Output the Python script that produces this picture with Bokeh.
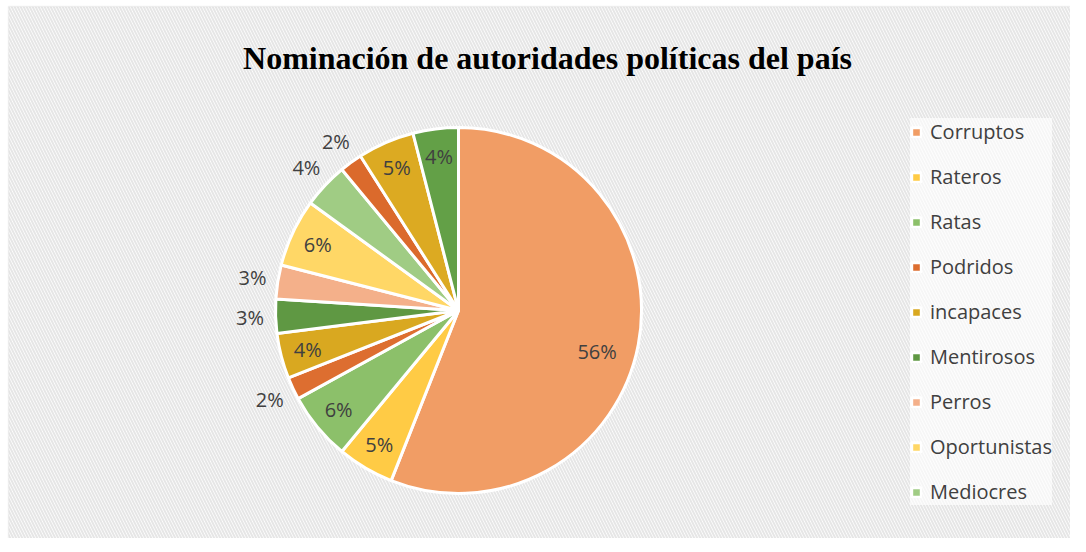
import numpy as np
from bokeh.plotting import figure
from bokeh.models import ColumnDataSource, Range1d, BoxAnnotation, Label, Legend, LegendItem
from bokeh.core.properties import value
from bokeh.embed import file_html
from bokeh.resources import INLINE

# ---- data ----
categories = ["Corruptos", "Rateros", "Ratas", "Podridos", "incapaces", "Mentirosos",
              "Perros", "Oportunistas", "Mediocres", "Otros 1", "Otros 2", "Otros 3"]
percent = [56, 5, 6, 2, 4, 3, 3, 6, 4, 2, 5, 4]
labels = ["56%", "5%", "6%", "2%", "4%", "3%", "3%", "6%", "4%", "2%", "5%", "4%"]
legend_count = 9  # the legend in the reference shows only the first nine categories
colors = ["#F19D65", "#FFCB45", "#8CC06A", "#DD6E30", "#D9A820", "#5F9843",
          "#F4B08A", "#FFD766", "#A0CC84", "#DB6A2C", "#DCAA22", "#63A047"]
outside = [False, False, False, True, False, True, True, False, True, True, False, False]

# ---- geometry / style ----
W, H = 1070, 538
cx, cy, R = 458, H - 310, 183

vals = np.array(percent, dtype=float)
frac = vals / vals.sum()
cum_end = np.cumsum(frac)
cum_start = cum_end - frac
start = np.pi / 2 - 2 * np.pi * cum_start
end = np.pi / 2 - 2 * np.pi * cum_end
mid = (start + end) / 2
rfac = np.where(outside, 1.14, 0.85)
rfac[0] = 0.79
mid_lab = mid.copy()
mid_lab[0] = mid[0] - 0.1
lx = cx + R * rfac * np.cos(mid_lab)
ly = cy + R * rfac * np.sin(mid_lab)

src = ColumnDataSource(dict(cat=categories, pct=percent, lab=labels, color=colors,
                            start=start, end=end, lx=lx, ly=ly))

p = figure(width=W, height=H, output_backend="svg", toolbar_location=None,
           x_range=Range1d(0, W), y_range=Range1d(0, H), min_border=0,
           x_axis_location=None, y_axis_location=None)
p.grid.visible = False
p.background_fill_color = "white"
p.border_fill_color = "white"
p.outline_line_color = None

bg = BoxAnnotation(left=8, right=W + 10, bottom=-10, top=H - 6, fill_color="white",
                   fill_alpha=1, hatch_pattern="\\", hatch_color="#E6E6E6",
                   hatch_scale=6, hatch_weight=2, line_color="#D9D9D9",
                   line_width=1.5, level="underlay")
p.add_layout(bg)

wr = p.wedge(x=cx, y=cy, radius=R, start_angle="start", end_angle="end",
             direction="clock", fill_color="color", line_color="white",
             line_width=3, source=src)

p.text(x="lx", y="ly", text="lab", source=src, text_align="center",
       text_baseline="middle", text_font=value("Open Sans"), text_font_size="20px",
       text_color="#404040")

title = Label(x=547, y=H - 57, text="Nominación de autoridades políticas del país",
              text_align="center", text_baseline="middle",
              text_font="Liberation Serif", text_font_style="bold",
              text_font_size="32px", text_color="black")
p.add_layout(title)

items = [LegendItem(label=categories[i], renderers=[wr], index=i) for i in range(legend_count)]
legend = Legend(items=items, location=(910, 33), orientation="vertical",
                background_fill_color="white", background_fill_alpha=0.65,
                border_line_color=None,
                glyph_width=12, glyph_height=12, label_height=20, spacing=18,
                padding=8, margin=0, label_standoff=8,
                label_text_font="Open Sans", label_text_font_size="20px",
                label_text_color="#404040")
p.add_layout(legend)

open("out.html", "w").write(file_html(p, INLINE))
